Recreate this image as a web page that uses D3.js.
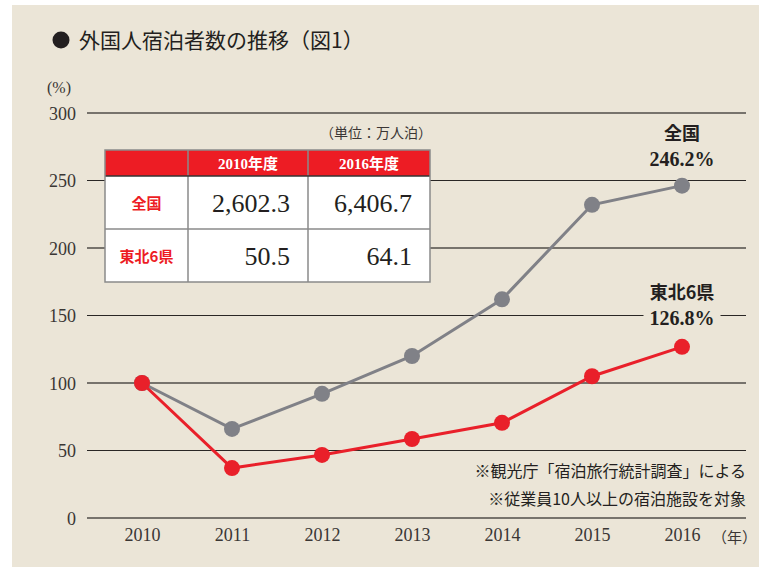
<!DOCTYPE html>
<html>
<head>
<meta charset="utf-8">
<script src="https://cdn.jsdelivr.net/npm/d3@7"></script>
<style>
  body { margin: 0; background: #fff; }
  svg text { font-family: "Liberation Serif", "DejaVu Serif", "Noto Sans CJK JP", serif; }
</style>
</head>
<body>
<div id="chart"></div>
<script>
// data
var years = [2010, 2011, 2012, 2013, 2014, 2015, 2016];
var zenkoku = [100, 66, 92, 120, 162, 232, 246.2];
var tohoku = [100, 37, 46.7, 58.5, 70.5, 105, 126.8];
var yTicks = [0, 50, 100, 150, 200, 250, 300];

var tableCols = ["", "2010年度", "2016年度"];
var tableRows = [
    ["全国", "2,602.3", "6,406.7"],
    ["東北6県", "50.5", "64.1"]
];
var notes = ["※観光庁「宿泊旅行統計調査」による", "※従業員10人以上の宿泊施設を対象"];

var W = 759, H = 567;
var gray = "#808187", red = "#e9202a", jp = '"Noto Sans CJK JP", sans-serif';

var svg = d3.select("#chart").append("svg")
    .attr("width", W).attr("height", H);

svg.append("rect").attr("x", 12).attr("y", 5)
    .attr("width", W - 12).attr("height", H - 5)
    .attr("fill", "#ebe5d7");

// title
svg.append("circle").attr("cx", 61).attr("cy", 40).attr("r", 8.5).attr("fill", "#231f20");
svg.append("text").attr("x", 79).attr("y", 48)
    .style("font-family", jp).style("font-size", "21px").attr("fill", "#231f20")
    .text("外国人宿泊者数の推移（図1）");

// scales
var x = d3.scalePoint().domain(years).range([142, 682]);
var y = d3.scaleLinear().domain([0, 300]).range([518, 113]);

// grid
var grid = svg.append("g");
grid.selectAll("line").data(yTicks).enter().append("line")
    .attr("x1", 87).attr("x2", 746)
    .attr("y1", function(d) { return y(d); })
    .attr("y2", function(d) { return y(d); })
    .attr("stroke", function(d) { return d % 100 == 0 ? "#77736c" : "#2a2725"; })
    .attr("stroke-width", function(d) { return d % 100 == 0 ? 2 : 1.2; });

// axes (labels only)
var yAxis = svg.append("g").attr("transform", "translate(76,0)")
    .call(d3.axisLeft(y).tickValues(yTicks).tickSize(0).tickPadding(0));
yAxis.select(".domain").remove();
yAxis.selectAll("text").style("font-size", "18px").attr("fill", "#3a3634").attr("dy", "0.35em");

var xAxis = svg.append("g").attr("transform", "translate(0,524)")
    .call(d3.axisBottom(x).tickSize(0).tickPadding(0));
xAxis.select(".domain").remove();
xAxis.selectAll("text").style("font-size", "18px").attr("fill", "#3a3634").attr("dy", "0.95em");

svg.append("text").attr("x", 47).attr("y", 93).style("font-size", "16px")
    .attr("fill", "#3a3634").text("(%)");
svg.append("text").attr("x", 712).attr("y", 543)
    .style("font-family", jp).style("font-size", "15px")
    .attr("fill", "#3a3634").text("（年）");

// table
var tx = [105, 188, 308, 430], ty = [150, 176, 229, 282];
var tbl = svg.append("g");
tbl.append("rect").attr("x", tx[0]).attr("y", ty[0])
    .attr("width", tx[3] - tx[0]).attr("height", ty[3] - ty[0]).attr("fill", "#fff");
tbl.append("rect").attr("x", tx[0]).attr("y", ty[0])
    .attr("width", tx[3] - tx[0]).attr("height", ty[1] - ty[0]).attr("fill", "#ed1c24");
tbl.selectAll(".vl").data([tx[1], tx[2]]).enter().append("line")
    .attr("x1", function(d) { return d; }).attr("x2", function(d) { return d; })
    .attr("y1", ty[0]).attr("y2", ty[3])
    .attr("stroke", "#8a8a8a").attr("stroke-width", 1.5);
tbl.selectAll(".hl").data([ty[1], ty[2]]).enter().append("line")
    .attr("x1", tx[0]).attr("x2", tx[3])
    .attr("y1", function(d) { return d; }).attr("y2", function(d) { return d; })
    .attr("stroke", function(d, i) { return i == 0 ? "#333" : "#8a8a8a"; }).attr("stroke-width", 1.5);
tbl.append("rect").attr("x", tx[0]).attr("y", ty[0])
    .attr("width", tx[3] - tx[0]).attr("height", ty[3] - ty[0])
    .attr("fill", "none").attr("stroke", "#8a8a8a").attr("stroke-width", 1.5);

tableCols.forEach(function(c, i) {
    if (!c) return;
    tbl.append("text").attr("x", (tx[i] + tx[i + 1]) / 2).attr("y", 169)
        .attr("text-anchor", "middle").attr("fill", "#fff")
        .style("font-size", "15px").style("font-weight", "bold").text(c);
});
tableRows.forEach(function(r, j) {
    var cy = (ty[j + 1] + ty[j + 2]) / 2;
    tbl.append("text").attr("x", (tx[0] + tx[1]) / 2).attr("y", cy + 6)
        .attr("text-anchor", "middle").attr("fill", "#ed1c24")
        .style("font-family", jp).style("font-size", "15px").style("font-weight", "bold").text(r[0]);
    [1, 2].forEach(function(k) {
        tbl.append("text").attr("x", tx[k + 1] - 18).attr("y", cy + 9)
            .attr("text-anchor", "end").attr("fill", "#231f20")
            .style("font-size", "26px").text(r[k]);
    });
});
svg.append("text").attr("x", 432).attr("y", 138).attr("text-anchor", "end")
    .style("font-family", jp).style("font-size", "14px").attr("fill", "#3a3634")
    .text("（単位：万人泊）");

// lines
var line = d3.line()
    .x(function(d, i) { return x(years[i]); })
    .y(function(d) { return y(d); });

[[zenkoku, gray], [tohoku, red]].forEach(function(s) {
    svg.append("path").datum(s[0]).attr("d", line)
        .attr("fill", "none").attr("stroke", s[1]).attr("stroke-width", 3);
    svg.append("g").selectAll("circle").data(s[0]).enter().append("circle")
        .attr("cx", function(d, i) { return x(years[i]); })
        .attr("cy", function(d) { return y(d); })
        .attr("r", 8).attr("fill", s[1]);
});

// end labels
function endLabel(name, val, cy) {
    var cx = x(2016);
    var t = d3.format(".1f")(val) + "%";
    var bg = svg.append("rect").attr("fill", "#ebe5d7");
    svg.append("text").attr("x", cx).attr("y", cy).attr("text-anchor", "middle")
        .style("font-family", jp).style("font-size", "18px").style("font-weight", "bold")
        .attr("fill", "#231f20").text(name);
    var vt = svg.append("text").attr("x", cx).attr("y", cy + 26).attr("text-anchor", "middle")
        .style("font-size", "20px").style("font-weight", "bold").attr("fill", "#231f20").text(t);
    var b = vt.node().getBBox();
    bg.attr("x", b.x - 6).attr("y", b.y).attr("width", b.width + 12).attr("height", b.height);
}
endLabel("全国", 246.2, 140);
endLabel("東北6県", 126.8, 299);

// notes
notes.forEach(function(n, i) {
    svg.append("text").attr("x", 746).attr("y", 477 + i * 28).attr("text-anchor", "end")
        .style("font-family", jp).style("font-size", "16px").attr("fill", "#231f20").text(n);
});
</script>
</body>
</html>
